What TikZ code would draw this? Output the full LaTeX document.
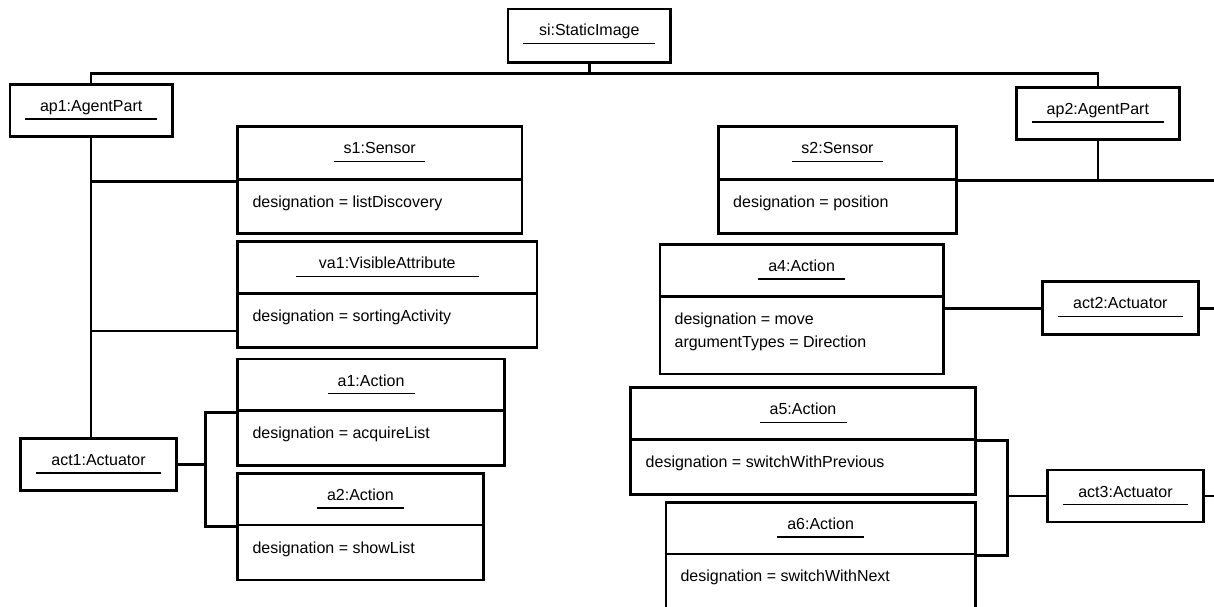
\documentclass[tikz,border=0pt]{standalone}
\usepackage{fontspec}
\setmainfont{Liberation Sans}
\usetikzlibrary{calc,fit}

\tikzset{
  objbox/.style={draw, line width=2.6pt, inner sep=0pt, fill=none},
  conn/.style={line width=2.6pt},
  uline/.style={line width=1.2pt},
  ttext/.style={anchor=base, inner sep=0pt, font=\fontsize{16}{19}\selectfont},
  atext/.style={anchor=base west, inner sep=0pt, font=\fontsize{16}{19}\selectfont},
}

% #1 name, #2 x0, #3 y0, #4 x1, #5 y1, #6 title, #7 half width of the underline
\newcommand\umlobject[7]{%
  \node[objbox, fit={(#2,#3) (#4,#5)}] (#1) {};
  \node[ttext] (#1-t) at ($(#1.north)+(0,28.3)$) {#6};
  \draw[uline] ($(#1.north)+(-#7,36)$) -- ($(#1.north)+(#7,36)$);
}
% divider between name and attribute compartments: #1 name, #2 y
\newcommand\umldivider[2]{%
  \draw[conn] (#1.west |- 0,#2) -- (#1.east |- 0,#2);
}

\begin{document}
\begin{tikzpicture}[x=1pt, y=-1pt]
\useasboundingbox (0,0) rectangle (1214,607);
\clip (0,0) rectangle (1214,607);

% root and agent parts
\umlobject{si}{508}{9}{670.5}{62.3}{si:StaticImage}{66}
\umlobject{ap1}{9.9}{84.3}{172.4}{136.7}{ap1:AgentPart}{66}
\umlobject{ap2}{1016.2}{87.3}{1179.5}{139.3}{ap2:AgentPart}{66.2}

% left agent part
\umlobject{s1}{237.6}{126.7}{521.9}{233.3}{s1:Sensor}{45.7}
\umldivider{s1}{179.3}
\node[atext] (s1-a) at (252.3,207.3) {designation = listDiscovery};

\umlobject{va1}{237.6}{241.7}{537}{347.7}{va1:VisibleAttribute}{91.2}
\umldivider{va1}{293.3}
\node[atext] (va1-a) at (252.3,321.3) {designation = sortingActivity};

\umlobject{a1}{237.6}{359}{504.5}{465.7}{a1:Action}{43.5}
\umldivider{a1}{410.7}
\node[atext] (a1-a) at (252.3,438.7) {designation = acquireList};

\umlobject{a2}{237.6}{473.3}{483.2}{580}{a2:Action}{43.5}
\umldivider{a2}{525}
\node[atext] (a2-a) at (252.3,553) {designation = showList};

\umlobject{act1}{20.6}{438.3}{176.4}{490.7}{act1:Actuator}{62.8}

% right agent part
\umlobject{s2}{718.2}{126.7}{956.7}{233.3}{s2:Sensor}{45.4}
\umldivider{s2}{179.3}
\node[atext] (s2-a) at (733,207.3) {designation = position};

\umlobject{a4}{659.9}{244.3}{943.4}{374}{a4:Action}{43.8}
\umldivider{a4}{296.3}
\node[atext] (a4-a) at (674.4,324.5) {designation = move};
\node[atext] (a4-b) at (674.4,347.2) {argumentTypes = Direction};

\umlobject{act2}{1042.4}{281.7}{1198.3}{334.7}{act2:Actuator}{62.8}

\umlobject{a5}{630.5}{387.7}{975.5}{494.7}{a5:Action}{43.5}
\umldivider{a5}{439.7}
\node[atext] (a5-a) at (645.5,467.7) {designation = switchWithPrevious};

\umlobject{a6}{665.8}{502.3}{975.5}{640}{a6:Action}{43.6}
\umldivider{a6}{554}
\node[atext] (a6-a) at (680.3,581.7) {designation = switchWithNext};

\umlobject{act3}{1047.5}{470}{1203.4}{522}{act3:Actuator}{62.8}

% composition tree
\draw[conn] (si.south) -- (si.south |- 0,73.3);
\draw[conn] (ap1.north) |- (si.south |- 0,73.3) -| (ap2.north);

\draw[conn] (ap1.south) -- (ap1.south |- act1.north);
\draw[conn] (ap1.south |- 0,181.3) -- (s1.west |- 0,181.3);
\draw[conn] (ap1.south |- 0,331) -- (va1.west |- 0,331);

\draw[conn] (act1.east) -- (205.6,464.5);
\draw[conn] (a1.west |- 0,412.3) -| (205.6,526.3) -- (a2.west |- 0,526.3);

\draw[conn] (ap2.south) -- (ap2.south |- 0,180.3);
\draw[conn] (s2.east |- 0,180.3) -- (1230,180.3);

\draw[conn] (a4.east |- act2.west) -- (act2.west);
\draw[conn] (act2.east) -- ++(30,0);

\draw[conn] (a5.east |- 0,440.7) -| (1007.2,555.7) -- (a6.east |- 0,555.7);
\draw[conn] (act3.west) -- (act3.west -| 1007.2,0);
\draw[conn] (act3.east) -- ++(30,0);
\end{tikzpicture}
\end{document}
